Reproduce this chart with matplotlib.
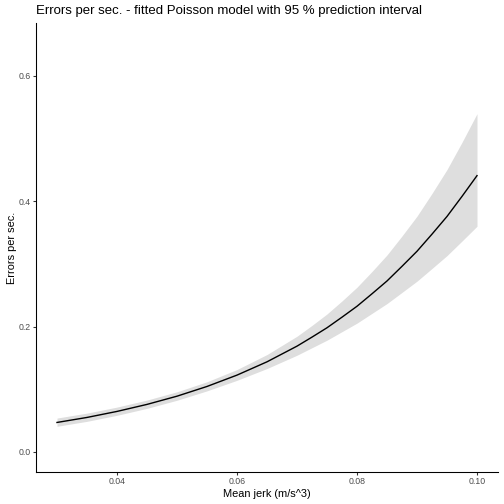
import matplotlib
matplotlib.use("Agg")
import matplotlib.pyplot as plt

jerk = [0.030, 0.035, 0.040, 0.045, 0.050, 0.055, 0.060, 0.065, 0.070,
        0.0725, 0.075, 0.0775, 0.080, 0.0825, 0.085, 0.0875, 0.090,
        0.0925, 0.095, 0.0975, 0.100]
fit = [0.0470, 0.0550, 0.0646, 0.0758, 0.0889, 0.1044, 0.1225, 0.1437, 0.1687,
       0.1831, 0.1980, 0.2149, 0.2323, 0.2522, 0.2726, 0.2960, 0.3200,
       0.3473, 0.3755, 0.4075, 0.4406]
lower = [0.0409, 0.0488, 0.0584, 0.0695, 0.0824, 0.0974, 0.1142, 0.1330, 0.1542,
         0.1662, 0.1782, 0.1918, 0.2054, 0.2210, 0.2366, 0.2544, 0.2723,
         0.2926, 0.3131, 0.3363, 0.3599]
upper = [0.0540, 0.0619, 0.0715, 0.0827, 0.0959, 0.1119, 0.1314, 0.1553, 0.1845,
         0.2018, 0.2200, 0.2408, 0.2627, 0.2878, 0.3141, 0.3444, 0.3760,
         0.4123, 0.4503, 0.4938, 0.5394]
xticks = [0.04, 0.06, 0.08, 0.10]
xtick_labels = ["0.04", "0.06", "0.08", "0.10"]
yticks = [0.0, 0.2, 0.4, 0.6]
ytick_labels = ["0.0", "0.2", "0.4", "0.6"]

plt.rcParams['font.family'] = ['Liberation Sans', 'DejaVu Sans']

W = H = 504
fig = plt.figure(figsize=(7, 7), dpi=72)
ax = fig.add_axes([36 / W, 1 - 472 / H, (498 - 36) / W, (472 - 23) / H])

ax.fill_between(jerk, lower, upper, color="#DEDEDE", linewidth=0)
ax.plot(jerk, fit, color="black", linewidth=1.4, solid_joinstyle="round")

ax.set_xlim(0.0265, 0.1035)
ax.set_ylim(-0.032, 0.684)
ax.set_xticks(xticks)
ax.set_xticklabels(xtick_labels)
ax.set_yticks(yticks)
ax.set_yticklabels(ytick_labels)

for s in ["top", "right"]:
    ax.spines[s].set_visible(False)
for s in ["left", "bottom"]:
    ax.spines[s].set_linewidth(1.07)
    ax.spines[s].set_color("black")
ax.tick_params(axis="both", length=2.75, width=1.07, color="#333333",
               labelsize=8.8, labelcolor="#4D4D4D", pad=2.2)

ax.set_xlabel("Mean jerk (m/s^3)", fontsize=11, color="black", labelpad=3)
ax.set_ylabel("Errors per sec.", fontsize=11, color="black", labelpad=1.5)
fig.text(36 / W, 1 - 11 / H, "Errors per sec. - fitted Poisson model with 95 % prediction interval",
         fontsize=13.2, ha="left", va="center", color="black")

fig.savefig("out.png", dpi=72)
